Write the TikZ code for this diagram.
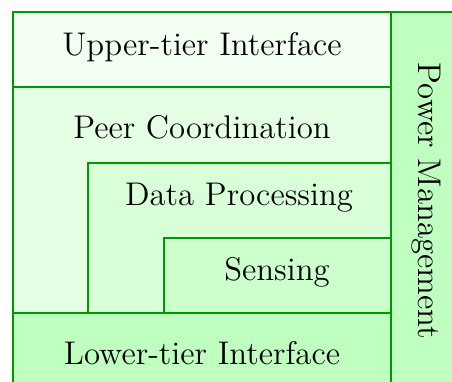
\documentclass[tikz,border=0pt]{standalone}
\tikzset{
  layer/.style={draw=green!60!black, line width=0.6pt},
  lbl/.style={font=\fontsize{12.3}{14}\selectfont, inner sep=0pt, text=black},
}
\begin{document}
\begin{tikzpicture}[x=0.375pt, y=-0.375pt]
  \useasboundingbox (0,0) rectangle (452,382);
  \clip (0,0) rectangle (452,382);
  % power column on the right and the bottom interface run past the edge
  \draw[layer, fill=green!25] (391,12) rectangle (480,410);
  \draw[layer, fill=green!25] (13,313) rectangle (391,410);
  % nested processing layers
  \draw[layer, fill=green!10] (13,87) rectangle (391,313);
  \draw[layer, fill=green!15] (88,163) rectangle (391,313);
  \draw[layer, fill=green!20] (164,238) rectangle (391,313);
  % top interface
  \draw[layer, fill=green!5] (13,12) rectangle (391,87);
  % labels
  \node[lbl] (upper) at (202,47) {Upper-tier Interface};
  \node[lbl] (peer) at (202,127) {Peer Coordination};
  \node[lbl] (data) at (239,198) {Data Processing};
  \node[lbl] (sense) at (277,272) {Sensing};
  \node[lbl] (lower) at (202,353) {Lower-tier Interface};
  \node[lbl, rotate=-90] (power) at (426,201) {Power Management};
\end{tikzpicture}
\end{document}
